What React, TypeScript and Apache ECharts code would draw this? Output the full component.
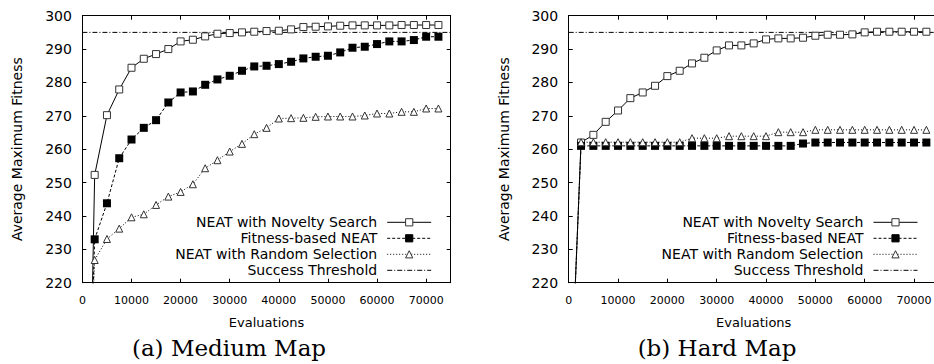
import React, { useEffect, useRef } from "react";
import * as echarts from "echarts";

// Evaluations at which each run was sampled (shared by both maps)
const evaluations = [
  2500, 5000, 7500, 10000, 12500, 15000, 17500, 20000, 22500, 25000,
  27500, 30000, 32500, 35000, 37500, 40000, 42500, 45000, 47500, 50000,
  52500, 55000, 57500, 60000, 62500, 65000, 67500, 70000, 72500,
];

// (a) Medium Map
const mediumLeadIn = [1800, 200];
const mediumNovelty = [
  252.3, 270.2, 277.9, 284.4, 287.1, 288.5, 290.0, 292.3, 292.8, 293.8,
  294.6, 294.8, 295.0, 295.2, 295.4, 295.5, 295.9, 296.6, 296.7, 296.8,
  297.0, 297.1, 297.1, 297.1, 297.1, 297.2, 297.2, 297.2, 297.2,
];
const mediumFitness = [
  233.0, 243.8, 257.3, 262.9, 266.4, 268.7, 274.0, 277.0, 277.3, 279.3,
  280.9, 282.0, 283.5, 284.8, 285.0, 285.5, 286.2, 287.2, 287.7, 288.0,
  289.0, 290.4, 290.7, 291.5, 292.3, 292.3, 292.7, 293.7, 293.7,
];
const mediumRandom = [
  226.8, 233.1, 236.2, 239.6, 240.5, 243.3, 245.8, 247.2, 249.5, 254.3,
  256.7, 259.3, 261.6, 264.5, 266.4, 269.2, 269.3, 269.4, 269.7, 269.8,
  269.8, 269.8, 270.1, 270.7, 270.7, 271.2, 271.2, 272.2, 272.2,
];

// (b) Hard Map
const hardLeadIn = [800, 200];
const hardNovelty = [
  262.0, 264.3, 268.2, 271.6, 275.3, 277.0, 279.0, 281.9, 283.5, 285.7,
  287.4, 289.6, 291.1, 291.1, 291.7, 292.9, 293.2, 293.2, 293.4, 294.0,
  294.3, 294.3, 294.4, 295.0, 295.2, 295.2, 295.2, 295.2, 295.2,
];
const hardFitness = [
  261.0, 261.0, 261.0, 261.0, 261.0, 261.0, 261.0, 261.0, 261.0, 261.0,
  261.0, 261.0, 261.0, 261.0, 261.0, 261.0, 261.0, 261.0, 261.7, 262.0,
  262.0, 262.0, 262.0, 262.0, 262.0, 262.0, 262.0, 262.0, 262.0,
];
const hardRandom = [
  262.1, 262.1, 262.1, 262.1, 262.1, 262.1, 262.1, 262.1, 262.1, 263.3,
  263.3, 263.3, 263.9, 263.9, 263.9, 263.9, 265.1, 265.1, 265.1, 265.8,
  265.8, 265.8, 265.8, 265.8, 265.8, 265.8, 265.8, 265.8, 265.8,
];

const successThreshold = 295;
const xRange = [0, 75000];
const yRange = [220, 300];

const seriesNames = [
  "NEAT with Novelty Search",
  "Fitness-based NEAT",
  "NEAT with Random Selection",
  "Success Threshold",
];
const captions = ["(a) Medium Map", "(b) Hard Map"];
const xTitle = "Evaluations";
const yTitle = "Average Maximum Fitness";

const SANS = "DejaVu Sans";

function build(lead: number[], vals: number[]) {
  return [
    { value: [lead[0], lead[1]], symbol: "none" },
    ...evaluations.map((e, i) => [e, vals[i]]),
  ];
}

const seriesStyles: any[] = [
  {
    symbol: "rect",
    symbolSize: 7,
    itemStyle: { color: "#fff", borderColor: "#333", borderWidth: 1 },
    lineStyle: { color: "#000", width: 1, type: "solid" },
  },
  {
    symbol: "rect",
    symbolSize: 8,
    itemStyle: { color: "#000", borderColor: "#000", borderWidth: 0 },
    lineStyle: { color: "#000", width: 1, type: [3, 2] },
  },
  {
    symbol: "triangle",
    symbolSize: 7,
    itemStyle: { color: "#fff", borderColor: "#333", borderWidth: 1 },
    lineStyle: { color: "#000", width: 1, type: [1, 2] },
  },
  {
    symbol: "none",
    itemStyle: { color: "#000", opacity: 0 },
    lineStyle: { color: "#000", width: 1, type: [5, 2, 1, 2] },
  },
];

export default function App() {
  const ref = useRef<HTMLDivElement>(null);

  useEffect(() => {
    document.body.style.margin = "0";
    if (!ref.current) return;
    const chart = echarts.init(ref.current, undefined, { renderer: "svg" });

    const W = 945;
    const grids = [
      { left: 82.4, top: 15.7, width: 368.3, height: 267 },
      { left: 568.7, top: 15.7, width: 370, height: 267 },
    ];

    const xAxes: any[] = [];
    const yAxes: any[] = [];
    grids.forEach((_, g) => {
      const common = {
        gridIndex: g,
        type: "value",
        min: xRange[0],
        max: xRange[1],
        interval: 10000,
        splitLine: { show: false },
        axisLine: { show: true, onZero: false, lineStyle: { color: "#000", width: 1 } },
        axisTick: { show: true, inside: true, length: 4, lineStyle: { color: "#000", width: 1 } },
      };
      xAxes.push({
        ...common,
        position: "bottom",
        axisLabel: {
          show: true,
          fontSize: 11,
          fontFamily: SANS,
          color: "#000",
          margin: 12,
          showMaxLabel: false,
          formatter: (v: number) => String(v),
        },
        name: xTitle,
        nameLocation: "middle",
        nameGap: 33,
        nameTextStyle: { fontFamily: SANS, fontSize: 13, color: "#000" },
      });
      xAxes.push({ ...common, position: "top", axisLabel: { show: false } });

      const ycommon = {
        gridIndex: g,
        type: "value",
        min: yRange[0],
        max: yRange[1],
        interval: 10,
        splitLine: { show: false },
        axisLine: { show: true, onZero: false, lineStyle: { color: "#000", width: 1 } },
        axisTick: { show: true, inside: true, length: 4, lineStyle: { color: "#000", width: 1 } },
      };
      yAxes.push({
        ...ycommon,
        position: "left",
        axisLabel: {
          show: true,
          fontSize: 14,
          fontFamily: SANS,
          color: "#000",
          margin: 10.5,
          formatter: (v: number) => String(v),
        },
        name: yTitle,
        nameLocation: "middle",
        nameGap: 58,
        nameTextStyle: { fontFamily: SANS, fontSize: 14, color: "#000" },
      });
      yAxes.push({ ...ycommon, position: "right", axisLabel: { show: false } });
    });

    const chartData = [
      [build(mediumLeadIn, mediumNovelty), build(mediumLeadIn, mediumFitness), build(mediumLeadIn, mediumRandom)],
      [build(hardLeadIn, hardNovelty), build(hardLeadIn, hardFitness), build(hardLeadIn, hardRandom)],
    ];

    const series: any[] = [];
    chartData.forEach((sets, g) => {
      sets.forEach((data, i) => {
        series.push({
          type: "line",
          name: seriesNames[i],
          xAxisIndex: g * 2,
          yAxisIndex: g * 2,
          data,
          clip: true,
          ...seriesStyles[i],
        });
      });
      series.push({
        type: "line",
        name: seriesNames[3],
        xAxisIndex: g * 2,
        yAxisIndex: g * 2,
        data: [
          [xRange[0], successThreshold],
          [xRange[1], successThreshold],
        ],
        clip: true,
        ...seriesStyles[3],
      });
    });

    const legendRights = [W - 431.7, W - 918];
    const legends = legendRights.map((r) => ({
      orient: "vertical",
      right: r,
      top: 214.3,
      padding: 0,
      itemGap: 0,
      itemWidth: 44,
      itemHeight: 9,
      align: "right",
      selectedMode: false,
      textStyle: {
        fontFamily: SANS,
        fontSize: 14,
        color: "#000",
        lineHeight: 16,
        padding: [0, 5, 0, 0],
      },
      lineStyle: { width: 1 },
      itemStyle: { borderWidth: 1 },
      data: [
        { name: seriesNames[0] },
        { name: seriesNames[1] },
        { name: seriesNames[2] },
        { name: seriesNames[3], itemStyle: { opacity: 0 } },
      ],
    }));

    const captionX = [229, 717];
    const graphic = captions.map((c, i) => ({
      type: "text",
      x: captionX[i],
      y: 348,
      style: {
        text: c,
        fontFamily: "DejaVu Serif",
        fontSize: 23,
        fill: "#000",
        align: "center",
        verticalAlign: "middle",
      },
    }));

    chart.setOption({
      animation: false,
      backgroundColor: "#fff",
      grid: grids,
      xAxis: xAxes,
      yAxis: yAxes,
      legend: legends,
      series,
      graphic,
    });

    return () => chart.dispose();
  }, []);

  return (
    <div
      style={{
        position: "fixed",
        left: 0,
        top: 0,
        width: 934,
        height: 364,
        overflow: "hidden",
        background: "#fff",
      }}
    >
      <div ref={ref} style={{ width: 945, height: 364 }} />
    </div>
  );
}
